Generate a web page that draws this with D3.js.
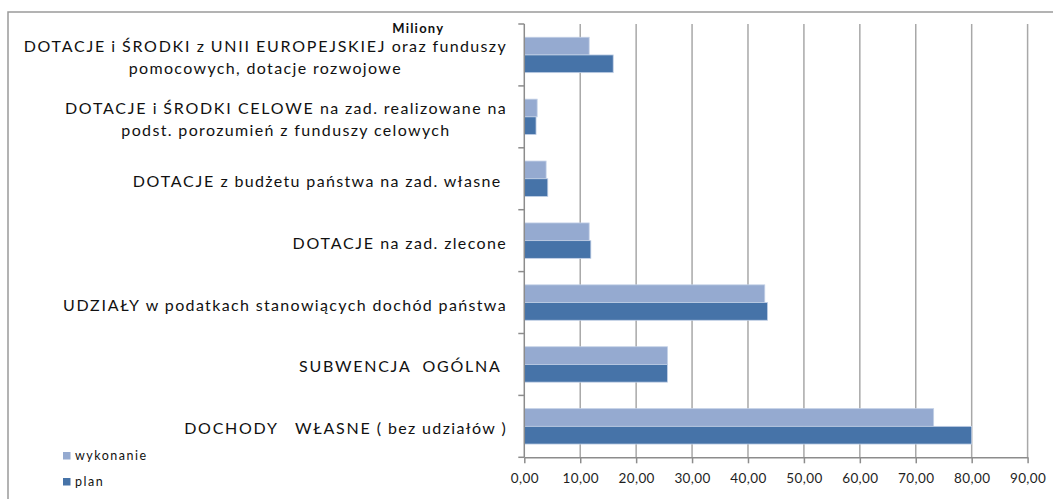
<!DOCTYPE html>
<html>
<head>
<meta charset="utf-8">
<script src="https://cdn.jsdelivr.net/npm/d3@7"></script>
<style>
  html, body { margin: 0; padding: 0; background: #fff; }
  svg { display: block; }
  text { white-space: pre; }
</style>
</head>
<body>
<script>
// ---------- data ----------
const categories = [
  ["DOTACJE i ŚRODKI z UNII EUROPEJSKIEJ oraz funduszy", "pomocowych, dotacje rozwojowe"],
  ["DOTACJE i ŚRODKI CELOWE na zad. realizowane na", "podst. porozumień z funduszy celowych"],
  ["DOTACJE z budżetu państwa na zad. własne "],
  ["DOTACJE na zad. zlecone"],
  ["UDZIAŁY w podatkach stanowiących dochód państwa"],
  ["SUBWENCJA  OGÓLNA "],
  ["DOCHODY   WŁASNE ( bez udziałów )"]
];
const wykonanie = [11.6, 2.3, 3.9, 11.6, 43.0, 25.6, 73.2];
const plan      = [15.9, 2.1, 4.2, 11.9, 43.5, 25.6, 80.0];
const seriesNames = ["wykonanie", "plan"];
const xTicks = [0, 10, 20, 30, 40, 50, 60, 70, 80, 90];
const unitLabel = "Miliony";

// ---------- layout ----------
const W = 1053, H = 499;
const colors = { wykonanie: "#95aad0", plan: "#4673a8" };
const font = "Lato, 'Open Sans', sans-serif";
const capsLS = 1.75, lowerLS = 1.35;

const svg = d3.select("body").append("svg")
  .attr("width", W).attr("height", H)
  .style("font-family", font);

svg.append("rect").attr("width", W).attr("height", H).attr("fill", "#fff");

// outer chart frame (only top/left visible)
svg.append("path")
  .attr("d", "M8," + H + "V12H" + W)
  .attr("fill", "none").attr("stroke", "#9b9b9b").attr("stroke-width", 1.5);

const x = d3.scaleLinear().domain([0, 90]).range([524.3, 1027.6]);
const y0 = d3.scaleBand().domain(d3.range(categories.length))
  .range([24, 457.3]).paddingInner(0.428).paddingOuter(0.214);
const y1 = d3.scaleBand().domain(seriesNames).range([0, y0.bandwidth()]);
const [yTop, yBot] = y0.range();

// gridlines
svg.append("g").selectAll("line")
  .data(xTicks.filter(t => t > 0))
  .join("line")
  .attr("x1", d => x(d)).attr("x2", d => x(d))
  .attr("y1", yTop).attr("y2", yBot)
  .attr("stroke", "#a8a8a8").attr("stroke-width", 1.5);

// bars
const series = { wykonanie: wykonanie, plan: plan };
const g = svg.append("g");
seriesNames.forEach(s => {
  g.selectAll("rect." + s)
    .data(series[s])
    .join("rect")
    .attr("class", s)
    .attr("x", x(0))
    .attr("y", (d, i) => y0(i) + y1(s))
    .attr("width", d => x(d) - x(0))
    .attr("height", y1.bandwidth())
    .attr("fill", colors[s])
    .attr("stroke", "#c3d0e6").attr("stroke-width", 0.8);
});

// left axis line + boundary ticks
svg.append("line")
  .attr("x1", x(0)).attr("x2", x(0)).attr("y1", yTop).attr("y2", yBot)
  .attr("stroke", "#8c8c8c").attr("stroke-width", 1.5);
svg.append("g").selectAll("line")
  .data(d3.range(categories.length + 1))
  .join("line")
  .attr("x1", x(0) - 6).attr("x2", x(0))
  .attr("y1", k => yTop + k * y0.step()).attr("y2", k => yTop + k * y0.step())
  .attr("stroke", "#8c8c8c").attr("stroke-width", 1.5);

// bottom axis
const loc = d3.formatLocale({ decimal: ",", thousands: " ", grouping: [3], currency: ["", " zł"] });
const fmt = loc.format(".2f");
const xAxis = svg.append("g")
  .attr("transform", "translate(0," + yBot + ")")
  .call(d3.axisBottom(x).tickValues(xTicks).tickFormat(fmt).tickSize(6).tickSizeOuter(0));
xAxis.select(".domain").attr("stroke", "#8c8c8c").attr("stroke-width", 1.5);
xAxis.selectAll(".tick line").attr("stroke", "#8c8c8c").attr("stroke-width", 1.5);
xAxis.selectAll(".tick text")
  .attr("y", 26).attr("dy", 0)
  .attr("font-size", 13.5).attr("font-family", font)
  .attr("fill", "#1e1e1e").attr("letter-spacing", 0.4);

// category labels
const labelRight = 507;
const isCaps = w => /^[A-ZĄĆĘŁŃÓŚŹŻ]+$/.test(w);
const lg = svg.append("g").attr("font-size", 16).attr("fill", "#111");
categories.forEach((lines, i) => {
  const c = y0(i) + y0.bandwidth() / 2;
  const n = lines.length;
  const nodes = lines.map((line, j) => {
    const t = lg.append("text")
      .attr("y", c + 8 + (j - (n - 1) / 2) * 22.7);
    line.split(/(\s+)/).filter(s => s.length).forEach(tok => {
      t.append("tspan").text(tok).attr("letter-spacing", isCaps(tok) ? capsLS : lowerLS);
    });
    return t;
  });
  if (n === 1) {
    nodes[0].attr("x", labelRight).attr("text-anchor", "end");
  } else {
    const maxW = d3.max(nodes, t => t.node().getComputedTextLength());
    nodes.forEach(t => t.attr("x", labelRight - maxW / 2).attr("text-anchor", "middle"));
  }
});

// unit label
svg.append("text")
  .attr("x", 392.3).attr("y", 32.5)
  .attr("font-size", 13).attr("font-weight", "bold")
  .attr("letter-spacing", 1.2).attr("fill", "#111")
  .text(unitLabel);

// legend
const leg = svg.append("g").selectAll("g")
  .data(seriesNames)
  .join("g")
  .attr("transform", (d, i) => "translate(63," + (452 + i * 26) + ")");
leg.append("rect").attr("width", 7.5).attr("height", 7.5).attr("fill", d => colors[d]);
leg.append("text").attr("x", 12).attr("y", 7.5)
  .attr("font-size", 12.5).attr("letter-spacing", 1.5).attr("fill", "#111")
  .text(d => d);
</script>
</body>
</html>
